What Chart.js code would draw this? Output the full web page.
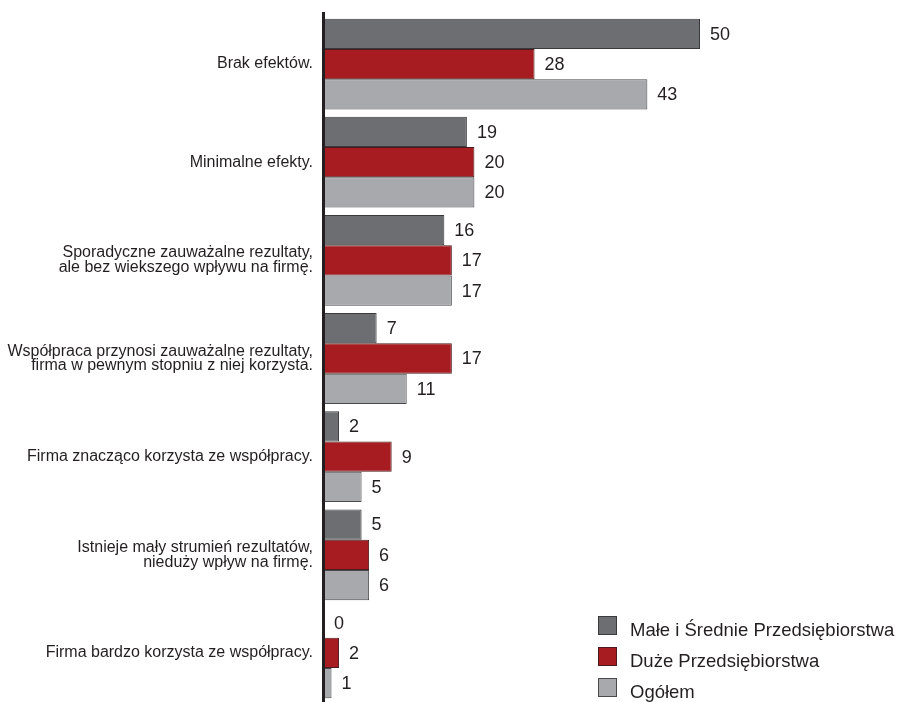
<!DOCTYPE html>
<html lang="pl">
<head>
<meta charset="utf-8">
<title>Efekty współpracy</title>
<script src="https://cdn.jsdelivr.net/npm/chart.js@4/dist/chart.umd.min.js"></script>
<style>
  html, body { margin: 0; padding: 0; background: #ffffff; }
  #wrap { width: 897px; height: 702px; }
</style>
</head>
<body>
<div id="wrap"><canvas id="c" width="897" height="702"></canvas></div>
<script>
// Kategorie odpowiedzi (wielowierszowe etykiety jako tablice)
const categories = [
  'Brak efektów.',
  'Minimalne efekty.',
  ['Sporadyczne zauważalne rezultaty,', 'ale bez wiekszego wpływu na firmę.'],
  ['Współpraca przynosi zauważalne rezultaty,', 'firma w pewnym stopniu z niej korzysta.'],
  'Firma znacząco korzysta ze współpracy.',
  ['Istnieje mały strumień rezultatów,', 'nieduży wpływ na firmę.'],
  'Firma bardzo korzysta ze współpracy.'
];

const seriesNames = ['Małe i Średnie Przedsiębiorstwa', 'Duże Przedsiębiorstwa', 'Ogółem'];

const msp    = [50, 19, 16, 7, 2, 5, 0];
const duze   = [28, 20, 17, 17, 9, 6, 2];
const ogolem = [43, 20, 17, 11, 5, 6, 1];

const colors = ['#6d6e71', '#a71c21', '#a7a9ac'];
const borderColors = ['#3a3a3c', '#4a1a1c', '#4a4a4c'];
const textColor = '#231f20';
const FONT = '"Liberation Sans", Arial, Helvetica, sans-serif';

// Etykiety wartości na końcach słupków
const valueLabels = {
  id: 'valueLabels',
  afterDatasetsDraw(chart) {
    const ctx = chart.ctx;
    ctx.save();
    ctx.font = '18px ' + FONT;
    ctx.fillStyle = textColor;
    ctx.textAlign = 'left';
    ctx.textBaseline = 'middle';
    chart.data.datasets.forEach((ds, di) => {
      const meta = chart.getDatasetMeta(di);
      meta.data.forEach((el, i) => {
        ctx.fillText(String(ds.data[i]), el.x + 10, el.y + 1);
      });
    });
    ctx.restore();
  }
};

// Pionowa linia osi kategorii
const axisLine = {
  id: 'axisLine',
  afterDatasetsDraw(chart) {
    const ctx = chart.ctx;
    const x = chart.chartArea.left - 0.5;
    ctx.save();
    ctx.strokeStyle = textColor;
    ctx.lineWidth = 3;
    ctx.beginPath();
    ctx.moveTo(x, 12);
    ctx.lineTo(x, 702);
    ctx.stroke();
    ctx.restore();
  }
};

// Legenda w prawym dolnym rogu
const cornerLegend = {
  id: 'cornerLegend',
  afterDraw(chart) {
    const ctx = chart.ctx;
    const box = 19, x0 = 598, y0 = 616, step = 31;
    ctx.save();
    ctx.font = '18.5px ' + FONT;
    ctx.textAlign = 'left';
    ctx.textBaseline = 'alphabetic';
    chart.data.datasets.forEach((ds, i) => {
      const y = y0 + i * step;
      ctx.fillStyle = ds.backgroundColor;
      ctx.fillRect(x0, y, box, box);
      ctx.strokeStyle = ds.borderColor;
      ctx.lineWidth = 1;
      ctx.strokeRect(x0 + 0.5, y + 0.5, box - 1, box - 1);
      ctx.fillStyle = textColor;
      ctx.fillText(ds.label, 630, y + box + 1);
    });
    ctx.restore();
  }
};

const seriesData = [msp, duze, ogolem];

new Chart(document.getElementById('c'), {
  type: 'bar',
  data: {
    labels: categories,
    datasets: seriesData.map((vals, i) => ({
      label: seriesNames[i],
      data: vals,
      backgroundColor: colors[i],
      borderColor: borderColors[i],
      borderWidth: 1,
      borderSkipped: false,
      barPercentage: 1.0,
      categoryPercentage: 0.925
    }))
  },
  options: {
    indexAxis: 'y',
    responsive: false,
    animation: false,
    devicePixelRatio: 1,
    layout: { padding: { top: 15, bottom: -4, left: 0, right: 197 } },
    plugins: {
      legend: { display: false },
      tooltip: { enabled: false },
      title: { display: false }
    },
    scales: {
      x: {
        display: false,
        min: 0,
        max: 50
      },
      y: {
        grid: { display: false, drawTicks: false },
        border: { display: false },
        ticks: {
          color: textColor,
          padding: 11,
          font: { family: FONT, size: 16, lineHeight: 0.92 },
          crossAlign: 'near'
        },
        afterFit(scale) {
          scale.width = 324;
          scale.paddingTop = 0;
          scale.paddingBottom = 0;
        }
      }
    }
  },
  plugins: [valueLabels, axisLine, cornerLegend]
});
</script>
</body>
</html>
